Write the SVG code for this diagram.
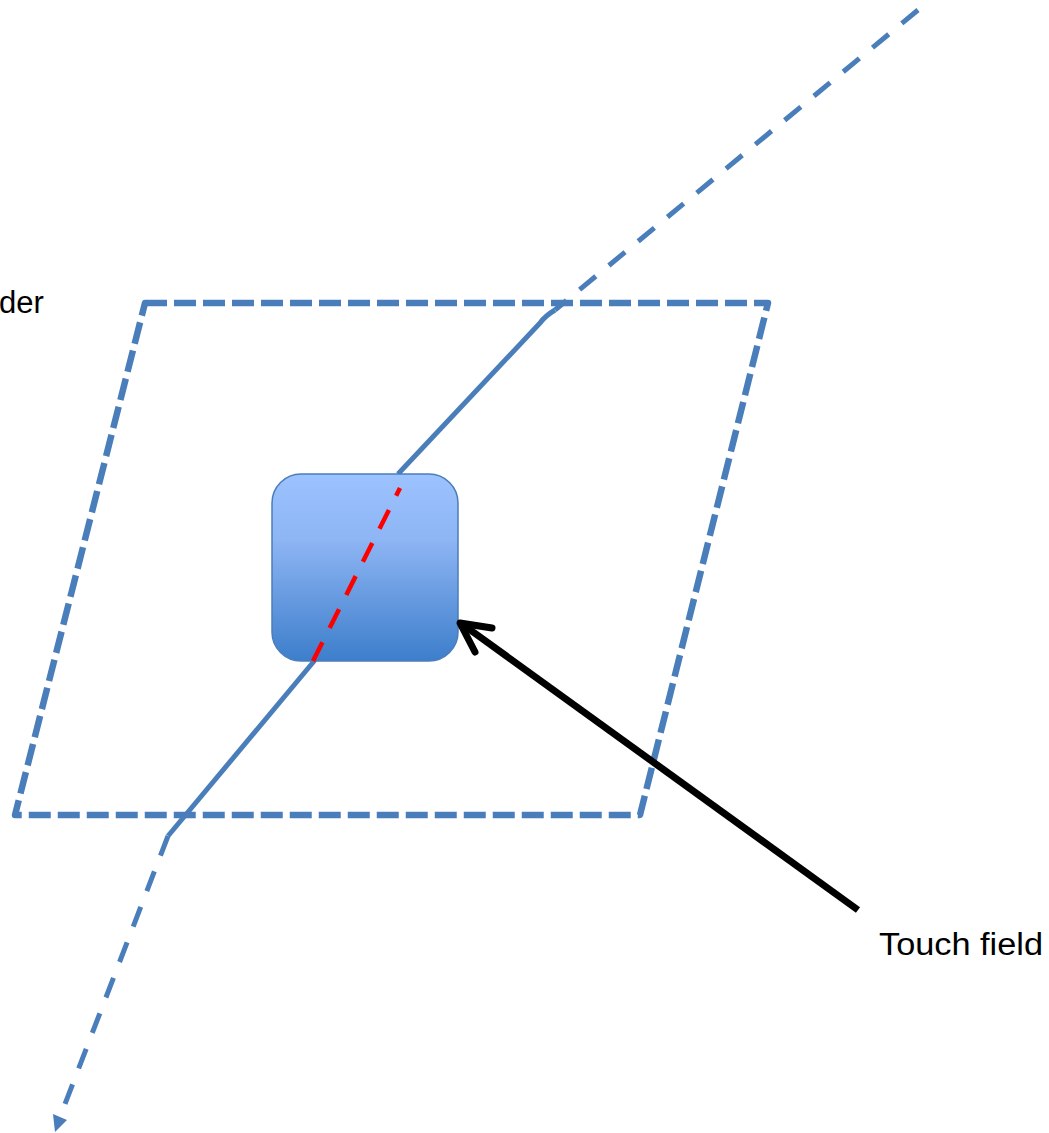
<svg xmlns="http://www.w3.org/2000/svg" width="1049" height="1133" viewBox="0 0 1049 1133">
<style>
.blue{fill:none;stroke:#4A7EBB;stroke-width:5;stroke-linejoin:round}
.bdash{stroke-dasharray:21 17}
.frame{fill:none;stroke:#4A7EBB;stroke-width:6.5;stroke-dasharray:22 7;stroke-linejoin:round}
.label{font-family:"Liberation Sans",Arial,sans-serif;font-size:31px;fill:#000}
</style>
<defs>
<linearGradient id="g" x1="0" y1="0" x2="0" y2="1">
<stop offset="0" stop-color="#9CC3FF"/>
<stop offset="0.35" stop-color="#8EB5F4"/>
<stop offset="1" stop-color="#3D7ECB"/>
</linearGradient>
</defs>
<rect width="1049" height="1133" fill="#fff"/>
<g id="frame">
<path class="frame" d="M145,303 L768,303 L640,815 L15,815 Z"/>
</g>
<g id="connectors">
<path class="blue bdash" d="M918,10 L555,310"/>
<path class="blue" d="M555,310 Q545,316 540,323 L398,474"/>
<path class="blue" d="M315,660 L168,836"/>
<path class="blue bdash" d="M168,836 L60,1117"/>
<polygon points="53,1114 67,1120 55,1132" fill="#4A7EBB"/>
</g>
<g id="touch-field">
<rect x="272" y="474" width="186" height="187" rx="29" ry="29" fill="url(#g)" stroke="#4A7EBB" stroke-width="1.5"/>
</g>
<g id="red-path">
<path d="M313,661 L400,488" fill="none" stroke="#FF0000" stroke-width="4.5" stroke-dasharray="21 16"/>
</g>
<g id="pointer">
<path d="M858,910 L462,624" fill="none" stroke="#000" stroke-width="7"/>
<path d="M492,628 L460,623 L475,652" fill="none" stroke="#000" stroke-width="7" stroke-linecap="round" stroke-linejoin="round"/>
</g>
<g id="labels">
<text class="label" x="-1" y="313">der</text>
<text class="label" x="879" y="955" textLength="164" lengthAdjust="spacingAndGlyphs">Touch field</text>
</g>
</svg>
